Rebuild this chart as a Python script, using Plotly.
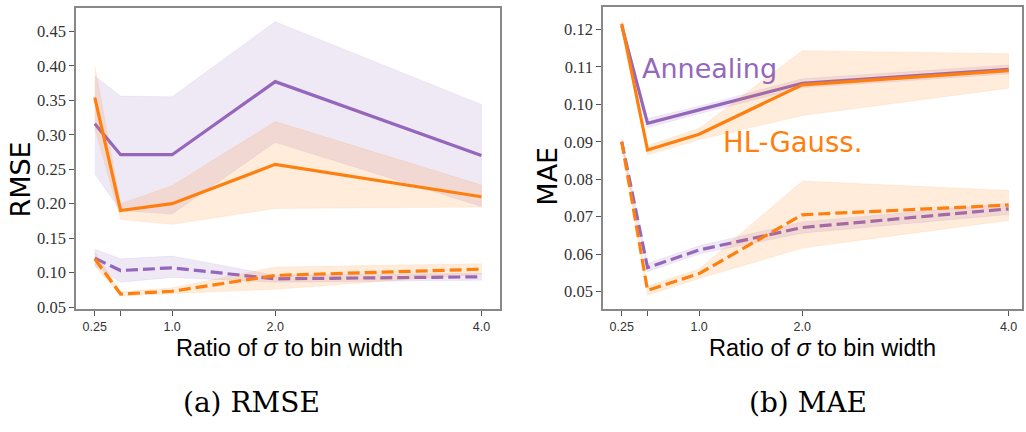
import plotly.graph_objects as go

# sigma / bin-width ratios evaluated
ratios = [0.25, 0.5, 1.0, 2.0, 4.0]
tick_vals = [0.25, 0.5, 1.0, 2.0, 4.0]
tick_text = ["0.25", "", "1.0", "2.0", "4.0"]

# ---- RMSE panel ----
rmse_anneal_train = [0.316, 0.271, 0.271, 0.377, 0.270]
rmse_anneal_train_hi = [0.385, 0.356, 0.355, 0.464, 0.344]
rmse_anneal_train_lo = [0.243, 0.190, 0.185, 0.289, 0.196]
rmse_hlg_train = [0.354, 0.190, 0.200, 0.257, 0.210]
rmse_hlg_train_hi = [0.400, 0.200, 0.226, 0.319, 0.227]
rmse_hlg_train_lo = [0.310, 0.177, 0.170, 0.193, 0.195]
rmse_anneal_test = [0.121, 0.103, 0.107, 0.091, 0.094]
rmse_anneal_test_hi = [0.134, 0.120, 0.124, 0.096, 0.099]
rmse_anneal_test_lo = [0.110, 0.086, 0.093, 0.086, 0.089]
rmse_hlg_test = [0.120, 0.069, 0.073, 0.096, 0.105]
rmse_hlg_test_hi = [0.130, 0.072, 0.078, 0.108, 0.113]
rmse_hlg_test_lo = [0.110, 0.066, 0.070, 0.076, 0.098]

# ---- MAE panel ----
mae_anneal_train = [0.1210, 0.0949, 0.0985, 0.1056, 0.1093]
mae_anneal_train_hi = [0.1220, 0.0962, 0.0995, 0.1068, 0.1105]
mae_anneal_train_lo = [0.1200, 0.0937, 0.0975, 0.1044, 0.1081]
mae_hlg_train = [0.1215, 0.0878, 0.0920, 0.1052, 0.1090]
mae_hlg_train_hi = [0.1225, 0.0890, 0.0935, 0.1143, 0.1135]
mae_hlg_train_lo = [0.1205, 0.0865, 0.0905, 0.0970, 0.1043]
mae_anneal_test = [0.0900, 0.0564, 0.0611, 0.0671, 0.0721]
mae_anneal_test_hi = [0.0910, 0.0575, 0.0622, 0.0686, 0.0736]
mae_anneal_test_lo = [0.0890, 0.0553, 0.0600, 0.0656, 0.0706]
mae_hlg_test = [0.0900, 0.0503, 0.0548, 0.0705, 0.0731]
mae_hlg_test_hi = [0.0910, 0.0515, 0.0560, 0.0795, 0.0770]
mae_hlg_test_lo = [0.0890, 0.0490, 0.0535, 0.0616, 0.0690]

PURPLE = "#9467bd"
ORANGE = "#ff7f0e"
PURPLE_FILL = "rgba(148,103,189,0.15)"
ORANGE_FILL = "rgba(255,127,14,0.15)"

fig = go.Figure()


def add_series(xa, ya, mean, hi, lo, color, fill, dash):
    fig.add_trace(go.Scatter(
        x=ratios + ratios[::-1], y=hi + lo[::-1], fill="toself",
        fillcolor=fill, line=dict(width=0.6, color=fill), mode="lines",
        xaxis=xa, yaxis=ya, hoverinfo="skip", showlegend=False))
    fig.add_trace(go.Scatter(
        x=ratios, y=mean, mode="lines",
        line=dict(color=color, width=3.2, dash=dash),
        xaxis=xa, yaxis=ya, showlegend=False))


DASH = "12px,5px"
add_series("x", "y", rmse_anneal_train, rmse_anneal_train_hi, rmse_anneal_train_lo, PURPLE, PURPLE_FILL, "solid")
add_series("x", "y", rmse_hlg_train, rmse_hlg_train_hi, rmse_hlg_train_lo, ORANGE, ORANGE_FILL, "solid")
add_series("x", "y", rmse_anneal_test, rmse_anneal_test_hi, rmse_anneal_test_lo, PURPLE, PURPLE_FILL, DASH)
add_series("x", "y", rmse_hlg_test, rmse_hlg_test_hi, rmse_hlg_test_lo, ORANGE, ORANGE_FILL, DASH)

add_series("x2", "y2", mae_anneal_train, mae_anneal_train_hi, mae_anneal_train_lo, PURPLE, PURPLE_FILL, "solid")
add_series("x2", "y2", mae_hlg_train, mae_hlg_train_hi, mae_hlg_train_lo, ORANGE, ORANGE_FILL, "solid")
add_series("x2", "y2", mae_anneal_test, mae_anneal_test_hi, mae_anneal_test_lo, PURPLE, PURPLE_FILL, DASH)
add_series("x2", "y2", mae_hlg_test, mae_hlg_test_hi, mae_hlg_test_lo, ORANGE, ORANGE_FILL, DASH)

tick_font = dict(family="Liberation Serif", size=16.5, color="#333")
xfont = dict(family="Liberation Sans", size=12.5, color="#333")

axis_common = dict(showgrid=False, zeroline=False, ticks="outside", ticklen=5,
                   tickwidth=1, tickcolor="#555", linecolor="#888", linewidth=1.5,
                   mirror=True, showline=True)

fig.update_layout(
    width=1026, height=432,
    margin=dict(l=0, r=0, t=0, b=0),
    paper_bgcolor="white", plot_bgcolor="white",
    xaxis=dict(domain=[0.0741, 0.4873], range=[0.068, 4.18],
               tickvals=tick_vals, ticktext=tick_text, tickfont=xfont,
               anchor="y", **axis_common),
    yaxis=dict(domain=[0.2708, 0.9815], range=[0.047, 0.484],
               tickvals=[0.05, 0.10, 0.15, 0.20, 0.25, 0.30, 0.35, 0.40, 0.45],
               tickformat=".2f", tickfont=tick_font, anchor="x", **axis_common),
    xaxis2=dict(domain=[0.5877, 0.9961], range=[0.068, 4.13],
                tickvals=tick_vals, ticktext=tick_text, tickfont=xfont,
                anchor="y2", **axis_common),
    yaxis2=dict(domain=[0.2708, 0.9838], range=[0.0453, 0.126],
                tickvals=[0.05, 0.06, 0.07, 0.08, 0.09, 0.10, 0.11, 0.12],
                tickformat=".2f", tickfont=tick_font, anchor="x2", **axis_common),
)

sans = "DejaVu Sans"
annotations = [
    dict(text="RMSE", x=21, y=183, textangle=-90, font=dict(family=sans, size=27, color="black")),
    dict(text="MAE", x=548, y=180, textangle=-90, font=dict(family=sans, size=27, color="black")),
    dict(text="Ratio of <i>σ</i> to bin width", x=289, y=355, font=dict(family="Liberation Sans", size=23.5, color="black")),
    dict(text="Ratio of <i>σ</i> to bin width", x=822, y=355, font=dict(family="Liberation Sans", size=23.5, color="black")),
    dict(text="(a) RMSE", x=251, y=410, font=dict(family="DejaVu Serif", size=28, color="black")),
    dict(text="(b) MAE", x=808, y=410, font=dict(family="DejaVu Serif", size=28, color="black")),
    dict(text="Annealing", x=709, y=70, font=dict(family=sans, size=27, color=PURPLE)),
    dict(text="HL-Gauss.", x=792, y=145, font=dict(family=sans, size=27.5, color=ORANGE)),
]
for a in annotations:
    fig.add_annotation(xref="paper", yref="paper", x=a["x"] / 1026, y=1 - a["y"] / 432,
                       text=a["text"], showarrow=False, font=a["font"],
                       textangle=a.get("textangle", 0), xanchor="center", yanchor="middle")

fig.write_html("out.html")
